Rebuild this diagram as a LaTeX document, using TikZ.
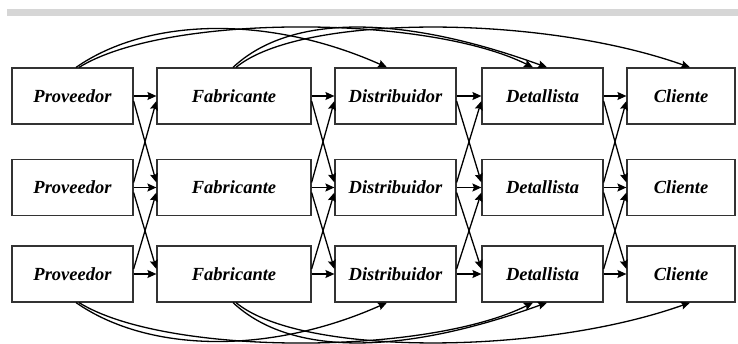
\documentclass[tikz,border=0pt]{standalone}
\usepackage{fontspec}
\setmainfont{Liberation Serif}
\usetikzlibrary{arrows.meta,calc}
\definecolor{bargray}{HTML}{D6D6D6}
\definecolor{boxline}{HTML}{333333}
\tikzset{
  stage/.style={draw=boxline, line width=1.2pt, fill=white, inner sep=0pt,
    minimum height=56pt, font=\fontsize{18.5}{20}\selectfont\bfseries\itshape},
  narrow/.style={stage, minimum width=121pt},
  wide/.style={stage, minimum width=154pt},
  arr/.style={line width=1.3pt, -{Stealth[length=9pt,width=8pt,inset=1.5pt]}},
}
\begin{document}
\begin{tikzpicture}[x=1pt,y=-1pt]
\useasboundingbox (0,0) rectangle (738,344);
% header bar
\fill[bargray] (7,9) rectangle (738,16);

% stages, three rows
\foreach \r/\y in {1/96,2/187.5,3/274}{
  \node[narrow] (p\r) at (72.5,\y) {Proveedor};
  \node[wide] (f\r) at (234,\y) {Fabricante};
  \node[narrow] (d\r) at (395.5,\y) {Distribuidor};
  \node[narrow] (t\r) at (542.5,\y) {Detallista};
  \node[stage, minimum width=108pt] (c\r) at (681,\y) {Cliente};
}

% links between neighbouring stages
\foreach \a/\b in {p/f,f/d,d/t,t/c}{
  \foreach \r in {1,2,3}{
    \draw[arr] (\a\r.east) -- (\b\r.west);
  }
  \foreach \u/\l in {1/2,2/3}{
    \draw[arr] ($(\a\u.east)+(0,5)$) -- ($(\b\l.west)+(0,-5)$);
    \draw[arr] ($(\a\l.east)+(0,-5)$) -- ($(\b\u.west)+(0,5)$);
  }
}

% links skipping stages, above the top row
\draw[arr] ($(p1.north)+(3.5,0)$) .. controls (150,16) and (272,16) .. ($(d1.north)+(-8.5,0)$);
\draw[arr] ($(p1.north)+(6.5,0)$) .. controls (165,14) and (425,14) .. ($(t1.north)+(-9.5,0)$);
\draw[arr] ($(f1.north)+(-1,0)$) .. controls (290,14) and (400,14) .. ($(t1.north)+(4.5,0)$);
\draw[arr] ($(f1.north)+(2,0)$) .. controls (300,14) and (540,14) .. ($(c1.north)+(9,0)$);

% links skipping stages, below the bottom row
\draw[arr] ($(p3.south)+(3.5,0)$) .. controls (150,354) and (272,354) .. ($(d3.south)+(-8.5,0)$);
\draw[arr] ($(p3.south)+(6.5,0)$) .. controls (165,356) and (425,356) .. ($(t3.south)+(-9.5,0)$);
\draw[arr] ($(f3.south)+(-1,0)$) .. controls (290,356) and (400,356) .. ($(t3.south)+(4.5,0)$);
\draw[arr] ($(f3.south)+(2,0)$) .. controls (300,356) and (540,356) .. ($(c3.south)+(9,0)$);
\end{tikzpicture}
\end{document}
